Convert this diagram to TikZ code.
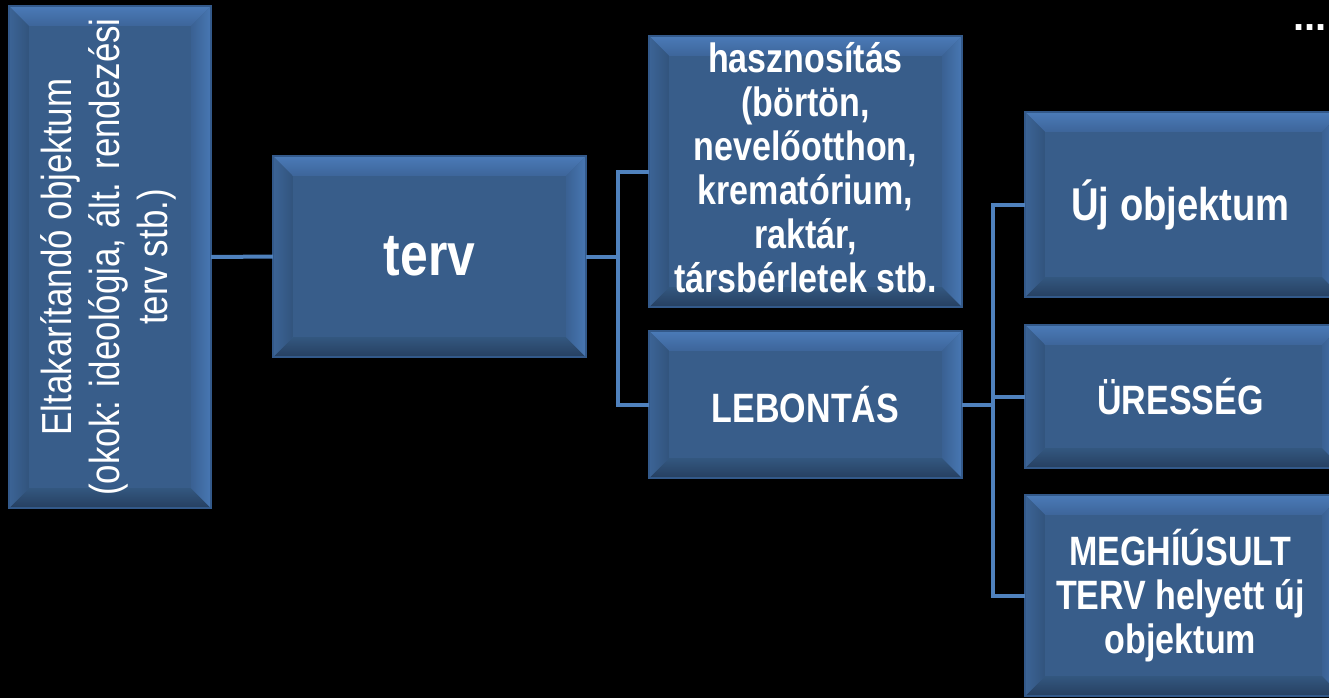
\documentclass[tikz,border=0pt]{standalone}
\usepackage{fontspec}
\setmainfont{Liberation Sans}
\newfontfamily\narrow[FakeStretch=0.83]{Liberation Sans}
\usetikzlibrary{calc}
\pgfdeclarelayer{back}
\pgfdeclarelayer{bg}
\pgfsetlayers{back,bg,main}
\definecolor{facec}{HTML}{385D8A}
\definecolor{topA}{HTML}{4B7BB8}
\definecolor{topB}{HTML}{3D659A}
\definecolor{botA}{HTML}{33577F}
\definecolor{botB}{HTML}{263F60}
\definecolor{lftA}{HTML}{3C6496}
\definecolor{lftB}{HTML}{32547D}
\definecolor{rgtA}{HTML}{3A6193}
\definecolor{rgtB}{HTML}{4878B4}
\definecolor{edgec}{HTML}{33598A}
\definecolor{connc}{HTML}{4F81BD}
\newcommand{\bw}{20pt}
\newcommand{\bevbox}[1]{%
  \fill[facec] (#1.north west) rectangle (#1.south east);
  \shade[top color=topA,bottom color=topB] (#1.north west) -- (#1.north east) -- ([xshift=-\bw,yshift=-\bw]#1.north east) -- ([xshift=\bw,yshift=-\bw]#1.north west) -- cycle;
  \shade[top color=botA,bottom color=botB] (#1.south west) -- (#1.south east) -- ([xshift=-\bw,yshift=\bw]#1.south east) -- ([xshift=\bw,yshift=\bw]#1.south west) -- cycle;
  \shade[left color=lftA,right color=lftB] (#1.north west) -- (#1.south west) -- ([xshift=\bw,yshift=\bw]#1.south west) -- ([xshift=\bw,yshift=-\bw]#1.north west) -- cycle;
  \shade[left color=rgtA,right color=rgtB] (#1.north east) -- (#1.south east) -- ([xshift=-\bw,yshift=\bw]#1.south east) -- ([xshift=-\bw,yshift=-\bw]#1.north east) -- cycle;
  \draw[edgec,line width=1.5pt] (#1.north west) rectangle (#1.south east);
}
\tikzset{
  box/.style={rectangle,inner sep=0pt,text=white,align=center,font=\narrow\bfseries\fontsize{41}{44}\selectfont},
  conn/.style={draw=connc,line width=4pt}
}
\begin{document}
\begin{tikzpicture}[x=1pt,y=-1pt]
\useasboundingbox (0,0) rectangle (1329,697);
\begin{pgfonlayer}{back}
\fill[black] (-5,-5) rectangle (1340,705);
\end{pgfonlayer}
\clip (0,0) rectangle (1329,697);
\node[box,minimum width=202pt,minimum height=502pt] (A) at (110,257) {};
\node[rotate=90,text=white,align=center,font=\narrow\fontsize{42}{48}\selectfont] (Atxt) at (108,257) {Eltakarítandó objektum\\(okok: ideológia, ált. rendezési\\terv stb.)};
\node[box,minimum width=313pt,minimum height=201pt,font=\narrow\bfseries\fontsize{60}{66}\selectfont] (terv) at (429.5,256.5) {terv};
\node[box,minimum width=313pt,minimum height=271pt] (hasz) at (805.5,171.5) {};
\node[box] (hasztxt) at (805.5,168) {hasznosítás\\(börtön,\\nevelőotthon,\\krematórium,\\raktár,\\társbérletek stb.};
\node[box,minimum width=313pt,minimum height=147pt] (leb) at (805.5,404.5) {LEBONTÁS};
\node[box,minimum width=317pt,minimum height=185pt,font=\narrow\bfseries\fontsize{46}{50}\selectfont] (uj) at (1183.5,204.5) {\hspace*{-6pt}Új objektum};
\node[box,minimum width=317pt,minimum height=143pt] (ures) at (1183.5,396.5) {\hspace*{-6pt}ÜRESSÉG};
\node[box,minimum width=317pt,minimum height=201pt] (meg) at (1183.5,595.5) {\hspace*{-6pt}MEGHÍÚSULT\\\hspace*{-6pt}TERV helyett új\\\hspace*{-6pt}objektum};
\node[text=white,font=\bfseries\fontsize{40}{40}\selectfont,inner sep=0pt,anchor=base] (dots) at (1310,30) {...};
\begin{pgfonlayer}{bg}
  \bevbox{A}\bevbox{terv}\bevbox{hasz}\bevbox{leb}\bevbox{uj}\bevbox{ures}\bevbox{meg}
\end{pgfonlayer}
\coordinate (j1) at (618,256.5);
\coordinate (j2) at (993,404.5);
\draw[conn] (A.east) -- (terv.west);
\draw[conn] (terv.east) -- (j1);
\draw[conn] (hasz.west) -| (j1) |- (leb.west);
\draw[conn] (leb.east) -- (j2);
\draw[conn] (uj.west) -| (j2) |- (meg.west);
\draw[conn] (ures.west) -- (ures.west -| j2);
\end{tikzpicture}
\end{document}
